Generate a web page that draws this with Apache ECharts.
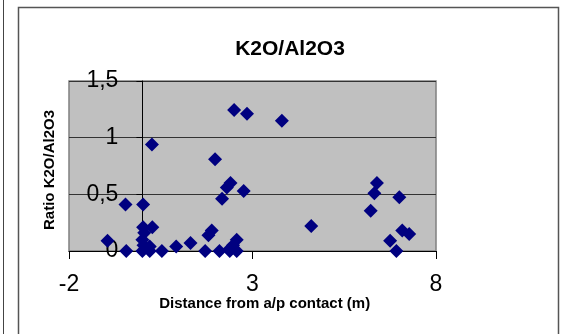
<!DOCTYPE html>
<html>
<head>
<meta charset="utf-8">
<script src="https://cdn.jsdelivr.net/npm/echarts@6/dist/echarts.min.js"></script>
<style>
html,body{margin:0;padding:0;background:#fff;}
#c{width:561px;height:334px;}
</style>
</head>
<body>
<div id="c"></div>
<script>
// Data
var distance = [-0.95, -0.46, -0.44, 0.02, 0.02, 0.05, 0.00, 0.03, 0.00, 0.20, 0.27, 0.20, 0.26, 0.53, 0.92, 1.31, 1.71, 1.80, 1.89, 1.98, 2.10, 2.17, 2.30, 2.40, 2.38, 2.38, 2.47, 2.57, 2.57, 2.50, 2.76, 2.85, 3.80, 4.60, 6.22, 6.32, 6.39, 6.75, 6.92, 7.00, 7.08, 7.27];
var ratio =    [0.09, 0.41, 0.00, 0.41, 0.21, 0.16, 0.10, 0.05, 0.00, 0.00, 0.21, 0.04, 0.94, 0.00, 0.04, 0.07, 0.00, 0.14, 0.18, 0.81, 0.00, 0.46, 0.56, 0.60, 0.02, 0.00, 0.05, 0.10, 0.00, 1.245, 0.53, 1.21, 1.15, 0.22, 0.355, 0.51, 0.60, 0.09, 0.00, 0.475, 0.18, 0.15];
var xTicks = [-2, 3, 8];
var yTicks = [0, 0.5, 1, 1.5];
var chartTitle = 'K2O/Al2O3';
var xTitle = 'Distance from a/p contact (m)';
var yTitle = 'Ratio K2O/Al2O3';

var points = distance.map(function (d, i) { return [d, ratio[i]]; });
var FONT = "'Liberation Sans', Arial, sans-serif";

var GRID_LEFT = 69, GRID_WIDTH = 367;
var xMin = xTicks[0], xMax = xTicks[xTicks.length - 1];
// y axis crosses the x axis at 0: shift the whole y axis (line, ticks, labels) inward
var yAxisShift = (0 - xMin) / (xMax - xMin) * GRID_WIDTH;

var chart = echarts.init(document.getElementById('c'), null, {renderer: 'canvas'});
chart.setOption({
  animation: false,
  backgroundColor: '#ffffff',
  graphic: [
    {type: 'line', shape: {x1: 3.5, y1: 0, x2: 3.5, y2: 334}, style: {stroke: '#444', lineWidth: 1}, silent: true},
    {type: 'rect', shape: {x: 18.5, y: 7.5, width: 540, height: 340}, style: {fill: 'none', stroke: '#555', lineWidth: 1.5}, silent: true},
    {type: 'text', x: 290, y: 49, style: {text: chartTitle, font: 'bold 21px ' + FONT, fill: '#000', textAlign: 'center', textVerticalAlign: 'middle'}, silent: true},
    {type: 'text', x: 264.7, y: 304, style: {text: xTitle, font: 'bold 15px ' + FONT, fill: '#000', textAlign: 'center', textVerticalAlign: 'middle'}, silent: true},
    {type: 'text', x: 50, y: 170, rotation: Math.PI / 2, style: {text: yTitle, font: 'bold 15px ' + FONT, fill: '#000', textAlign: 'center', textVerticalAlign: 'middle'}, silent: true}
  ],
  grid: {
    left: GRID_LEFT, top: 81, width: GRID_WIDTH, height: 170,
    show: true, backgroundColor: '#C0C0C0', borderColor: '#808080', borderWidth: 1.5
  },
  xAxis: {
    type: 'value', min: xMin, max: xMax, interval: xTicks[1] - xTicks[0],
    axisLine: {show: true, onZero: false, lineStyle: {color: '#000', width: 1}},
    axisTick: {show: true, length: 8, lineStyle: {color: '#000'}},
    axisLabel: {margin: 22, fontFamily: FONT, fontSize: 23, color: '#000'},
    splitLine: {show: false}
  },
  yAxis: {
    type: 'value', min: yTicks[0], max: yTicks[yTicks.length - 1], interval: yTicks[1] - yTicks[0],
    position: 'left',
    offset: -yAxisShift,
    axisLine: {show: true, onZero: false, lineStyle: {color: '#000', width: 1}},
    axisTick: {show: true, length: 6, lineStyle: {color: '#000'}},
    axisLabel: {margin: 24, fontFamily: FONT, fontSize: 23, color: '#000',
      formatter: function (v) { return String(v).replace('.', ','); }},
    splitLine: {show: true, lineStyle: {color: '#333', width: 1}}
  },
  series: [{
    type: 'scatter',
    data: points,
    symbol: 'diamond',
    symbolSize: 14,
    clip: false,
    itemStyle: {color: '#000080', opacity: 1}
  }]
});
</script>
</body>
</html>
